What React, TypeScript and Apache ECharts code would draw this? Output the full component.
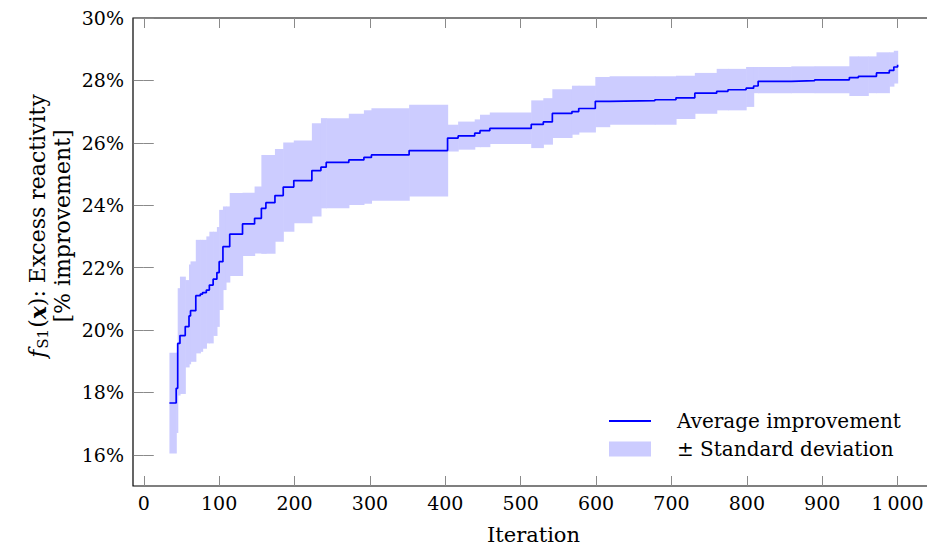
import React, { useEffect, useRef } from "react";
import * as echarts from "echarts";

// ---- data ----
const stepIterations = [
  34, 43, 45, 48, 55, 60, 62, 69, 75, 78, 83, 87, 92, 97, 100, 105, 109, 114, 131, 147,
  156, 162, 174, 185, 199, 223, 235, 242, 272, 292, 302, 352, 403, 417, 439, 446, 459, 514, 530, 542,
  568, 577, 599, 618, 678, 706, 731, 760, 775, 799, 809, 815, 859, 890, 936, 948, 961, 972, 989, 995,
];
const meanValues = [
  17.66, 18.13, 19.57, 19.82, 20.11, 20.45, 20.62, 21.1, 21.15, 21.2, 21.28, 21.44, 21.63, 21.84, 22.19, 22.67, 22.67, 23.07, 23.4, 23.58,
  23.9, 24.08, 24.31, 24.58, 24.79, 25.11, 25.22, 25.37, 25.45, 25.53, 25.61, 25.75, 26.15, 26.22, 26.31, 26.39, 26.46, 26.59, 26.67, 26.94,
  27.0, 27.1, 27.33, 27.35, 27.38, 27.44, 27.59, 27.65, 27.7, 27.75, 27.82, 27.97, 27.99, 28.02, 28.09, 28.13, 28.13, 28.24, 28.32, 28.43,
];
const lowerValues = [
  16.04, 16.7, 17.9, 17.95, 18.8, 18.9, 18.98, 19.25, 19.3, 19.4, 19.57, 19.57, 19.81, 20.1, 20.64, 21.28, 21.52, 21.73, 22.37, 22.45,
  22.44, 22.44, 22.83, 23.15, 23.42, 23.64, 23.9, 23.9, 24.01, 24.05, 24.14, 24.28, 25.72, 25.78, 25.86, 25.86, 25.96, 25.83, 25.94, 26.15,
  26.26, 26.33, 26.5, 26.58, 26.58, 26.76, 26.93, 27.04, 27.04, 27.15, 27.59, 27.59, 27.59, 27.59, 27.5, 27.5, 27.59, 27.59, 27.8, 27.9,
];
const upperValues = [
  19.27, 19.27, 21.34, 21.71, 21.6, 22.1, 22.2, 22.89, 22.89, 22.89, 23.0, 23.15, 23.15, 23.3, 23.85, 23.96, 23.96, 24.39, 24.4, 24.6,
  25.61, 25.61, 25.8, 26.01, 26.07, 26.63, 26.79, 26.79, 26.93, 27.04, 27.11, 27.22, 26.58, 26.68, 26.75, 26.9, 26.97, 27.36, 27.43, 27.72,
  27.83, 27.83, 28.11, 28.13, 28.13, 28.15, 28.24, 28.37, 28.37, 28.43, 28.43, 28.43, 28.45, 28.45, 28.77, 28.77, 28.77, 28.9, 28.9, 28.95,
];
const lastIteration = 1000;
const lastMean = 28.5;

const xTickValues = [0, 100, 200, 300, 400, 500, 600, 700, 800, 900, 1000];
const xTickLabels = ["0", "100", "200", "300", "400", "500", "600", "700", "800", "900", "1\u2009000"];
const yTickValues = [16, 18, 20, 22, 24, 26, 28, 30];
const yTickLabels = ["16%", "18%", "20%", "22%", "24%", "26%", "28%", "30%"];

const seriesNames = ["Average improvement", "\u00b1 Standard deviation"];
const xAxisTitle = "Iteration";

// ---- styles ----
const FONT = "'DejaVu Serif', 'Liberation Serif', serif";
const LINE_COLOR = "#0000ff";
const BAND_COLOR = "#ccccff";
const TICK_COLOR = "#8a8a8a";
const X_MIN = -14.3;
const X_MAX = 1048.3;
const Y_MIN = 15;
const Y_MAX = 30;

export default function App() {
  const ref = useRef<HTMLDivElement>(null);

  useEffect(() => {
    if (!ref.current) return;
    const chart = echarts.init(ref.current, undefined, { renderer: "svg" });

    const bandData = stepIterations.map((it, i) => [
      it,
      i + 1 < stepIterations.length ? stepIterations[i + 1] : lastIteration,
      lowerValues[i],
      upperValues[i],
    ]);
    const lineData = stepIterations
      .map((it, i) => [it, meanValues[i]])
      .concat([[lastIteration, lastMean]]);

    const tickStyle = { color: TICK_COLOR, width: 1 };

    const option: any = {
      animation: false,
      backgroundColor: "#ffffff",
      grid: {
        left: 133,
        top: 18,
        width: 801,
        height: 468,
        show: true,
        borderColor: "#000000",
        borderWidth: 1.2,
        backgroundColor: "transparent",
        outerBoundsMode: "none",
        containLabel: false,
      },
      legend: {
        orient: "vertical",
        left: 603,
        top: 406,
        itemWidth: 42,
        itemHeight: 15,
        itemGap: 8,
        selectedMode: false,
        data: [
          { name: seriesNames[0], itemStyle: { opacity: 0, borderWidth: 0 } },
          { name: seriesNames[1], icon: "rect" },
        ],
        textStyle: { fontFamily: FONT, fontSize: 20, color: "#000", padding: [0, 0, 0, 21] },
      },
      xAxis: [
        {
          type: "value",
          min: X_MIN,
          max: X_MAX,
          position: "bottom",
          axisLine: { show: false },
          splitLine: { show: false },
          axisTick: { inside: true, length: 10, customValues: xTickValues, lineStyle: tickStyle },
          axisLabel: {
            customValues: xTickValues,
            formatter: (v: number) => xTickLabels[xTickValues.indexOf(v)] ?? String(v),
            margin: 7,
            color: "#000",
            fontFamily: FONT,
            fontSize: 19,
          },
          name: xAxisTitle,
          nameLocation: "middle",
          nameGap: 38,
          nameTextStyle: { fontFamily: FONT, fontSize: 21, color: "#000" },
        },
        {
          type: "value",
          min: X_MIN,
          max: X_MAX,
          position: "top",
          axisLine: { show: false },
          splitLine: { show: false },
          axisTick: { inside: true, length: 10, customValues: xTickValues, lineStyle: tickStyle },
          axisLabel: { show: false },
        },
      ],
      yAxis: [
        {
          type: "value",
          min: Y_MIN,
          max: Y_MAX,
          position: "left",
          axisLine: { show: false },
          splitLine: { show: false },
          axisTick: { inside: true, length: 10, customValues: yTickValues, lineStyle: tickStyle },
          axisLabel: {
            customValues: yTickValues,
            formatter: (v: number) => yTickLabels[yTickValues.indexOf(v)] ?? String(v),
            margin: 9,
            color: "#000",
            fontFamily: FONT,
            fontSize: 19,
          },
        },
        {
          type: "value",
          min: Y_MIN,
          max: Y_MAX,
          position: "right",
          axisLine: { show: false },
          splitLine: { show: false },
          axisTick: { inside: true, length: 10, customValues: yTickValues, lineStyle: tickStyle },
          axisLabel: { show: false },
        },
      ],
      graphic: [
        {
          type: "text",
          x: 50,
          y: 226,
          rotation: Math.PI / 2,
          silent: true,
          style: {
            text: "{it|f}{sub|S1}{n|(}{bx|x}{n|): Excess reactivity}\n{n|[% improvement]}",
            align: "center",
            verticalAlign: "middle",
            textAlign: "center",
            textVerticalAlign: "middle",
            fill: "#000",
            fontFamily: FONT,
            fontSize: 22,
            rich: {
              n: { fontFamily: FONT, fontSize: 22, lineHeight: 25, color: "#000" },
              it: { fontFamily: FONT, fontSize: 22, fontStyle: "italic", lineHeight: 25, color: "#000" },
              bx: { fontFamily: FONT, fontSize: 22, fontStyle: "italic", fontWeight: "bold", lineHeight: 25, color: "#000" },
              sub: { fontFamily: FONT, fontSize: 15, lineHeight: 15, verticalAlign: "bottom", padding: [0, 1, 0, 1], color: "#000" },
            },
          },
        },
      ],
      series: [
        {
          name: seriesNames[1],
          type: "custom",
          xAxisIndex: 0,
          yAxisIndex: 0,
          itemStyle: { color: BAND_COLOR },
          encode: { x: [0, 1], y: [2, 3] },
          data: bandData,
          renderItem: (params: any, api: any) => {
            const x0 = api.value(0);
            const x1 = api.value(1);
            const lo = api.value(2);
            const hi = api.value(3);
            const p0 = api.coord([x0, hi]);
            const p1 = api.coord([x1, lo]);
            return {
              type: "rect",
              silent: true,
              shape: { x: p0[0], y: p0[1], width: p1[0] - p0[0] + 0.6, height: p1[1] - p0[1] },
              style: { fill: BAND_COLOR },
            };
          },
        },
        {
          name: seriesNames[0],
          type: "line",
          xAxisIndex: 0,
          yAxisIndex: 0,
          step: "end",
          symbol: "none",
          showSymbol: false,
          color: LINE_COLOR,
          lineStyle: { color: LINE_COLOR, width: 1.7 },
          data: lineData,
        },
      ],
    };

    chart.setOption(option);
    return () => chart.dispose();
  }, []);

  return <div ref={ref} style={{ width: 927, height: 547, position: "absolute", left: 0, top: 0 }} />;
}
